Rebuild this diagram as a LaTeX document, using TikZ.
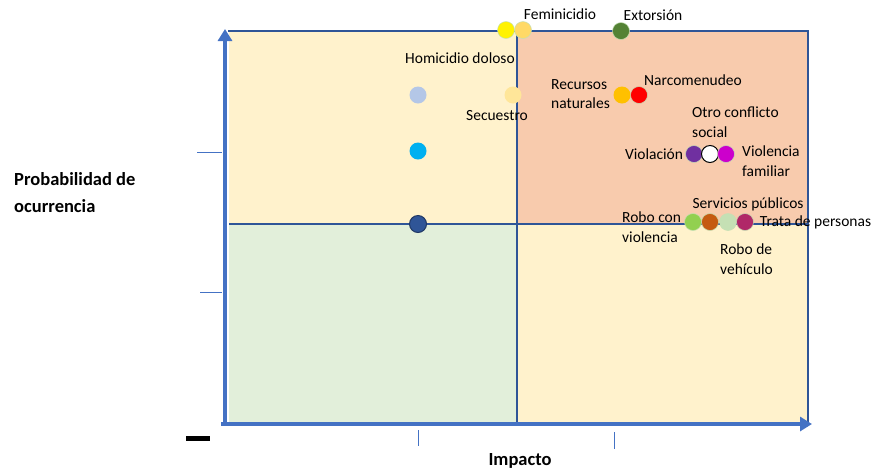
\documentclass[tikz,border=0pt]{standalone}
\usepackage{fontspec}
\setmainfont{Carlito}
\usetikzlibrary{positioning,arrows.meta}
\definecolor{quadcream}{HTML}{FFF2CC}
\definecolor{quadpeach}{HTML}{F8CBAD}
\definecolor{quadgreen}{HTML}{E2EFDA}
\definecolor{framblue}{HTML}{2F5597}
\definecolor{axisblue}{HTML}{4472C4}
\definecolor{rimgreen}{HTML}{C5E0B4}
\tikzset{
	dot/.style={circle, minimum size=17pt, inner sep=0pt, draw=rimgreen, line width=0.5pt},
	lbl/.style={font=\fontsize{15.5}{19.5}\selectfont, align=left, inner sep=0pt},
	axtitle/.style={font=\fontsize{18.5}{27}\selectfont\bfseries, align=left, inner sep=0pt},
	axis/.style={axisblue, line width=4pt},
	tick/.style={axisblue, line width=1pt},
	frame/.style={framblue, line width=1.6pt},
}

\begin{document}
\begin{tikzpicture}[x=1pt, y=-1pt]
	\useasboundingbox (0,0) rectangle (874,475);
	% quadrants
	\fill[quadcream] (229,31) rectangle (517,224);
	\fill[quadpeach] (517,31) rectangle (808,224);
	\fill[quadgreen] (229,224) rectangle (517,422);
	\fill[quadcream] (517,224) rectangle (808,422);
	\draw[frame] (228,31) -- (808,31) -- (808,422);
	\draw[frame] (229,224) -- (808,224);
	\draw[frame] (517,31) -- (517,422);
	% axes
	\draw[axis, -{Triangle[length=12pt, width=14pt]}] (225,424) -- (225,29);
	\draw[axis, -{Triangle[length=12pt, width=14pt]}] (221,424) -- (812,424);
	\draw[tick] (197,152) -- (222,152);
	\draw[tick] (200,292) -- (222,292);
	\draw[tick] (418,430) -- (418,446);
	\draw[tick] (614,432) -- (614,449);
	\node (minus) at (198,438)[rectangle, minimum width=24pt, minimum height=5pt, inner sep=0pt, fill=black]{};
	\node (py) at (14,193)[axtitle, anchor=west]{Probabilidad de\\ocurrencia};
	\node (px) at (520,461)[axtitle]{Impacto};

	% risks
	\node (d01) at (506,30)[dot, fill=yellow]{};
	\node (d02) at (523,30)[dot, fill={rgb,255:red,255;green,217;blue,102}]{};
	\node at (560,14)[lbl]{Feminicidio};
	\node (d03) at (621,31)[dot, fill={rgb,255:red,84;green,130;blue,53}]{};
	\node at (653,15)[lbl]{Extorsión};

	\node at (460,58)[lbl]{Homicidio doloso};
	\node (d04) at (418,95)[dot, fill={rgb,255:red,180;green,199;blue,231}, draw=none]{};
	\node (d05) at (418,151)[dot, fill={rgb,255:red,0;green,176;blue,240}, draw=none]{};
	\node (d06) at (418,224)[dot, fill=framblue, draw={rgb,255:red,32;green,56;blue,100}, line width=1pt]{};

	\node (d07) at (513,95)[dot, fill={rgb,255:red,255;green,230;blue,153}, draw=none]{};
	\node at (497,116)[lbl]{Secuestro};

	\node (d08) at (622,95)[dot, fill={rgb,255:red,255;green,192;blue,0}, draw=none]{};
	\node (d09) at (639,95)[dot, fill=red]{};
	\node at (551,94)[lbl, anchor=west]{Recursos\\naturales};
	\node at (693,80)[lbl]{Narcomenudeo};

	\node (d10) at (694,154)[dot, fill={rgb,255:red,112;green,48;blue,160}]{};
	\node (d11) at (710,154)[dot, fill=white, draw=black, line width=1pt]{};
	\node (d12) at (726,154)[dot, fill={rgb,255:red,204;green,0;blue,204}]{};
	\node[lbl, left=2pt of d10] {Violación};
	\node at (692,122)[lbl, anchor=west]{Otro conflicto\\social};
	\node at (742,161)[lbl, anchor=west]{Violencia\\familiar};

	\node (d13) at (693,222)[dot, fill={rgb,255:red,146;green,208;blue,80}]{};
	\node (d14) at (710,222)[dot, fill={rgb,255:red,197;green,90;blue,17}]{};
	\node (d15) at (728,222)[dot, fill=rimgreen]{};
	\node (d16) at (745,222)[dot, fill={rgb,255:red,176;green,40;blue,104}]{};
	\node at (622,227)[lbl, anchor=west]{Robo con\\violencia};
	\node at (748,204)[lbl]{Servicios públicos};
	\node[lbl, right=6pt of d16] {Trata de personas};
	\node at (720,259)[lbl, anchor=west]{Robo de\\vehículo};
\end{tikzpicture}
\end{document}
